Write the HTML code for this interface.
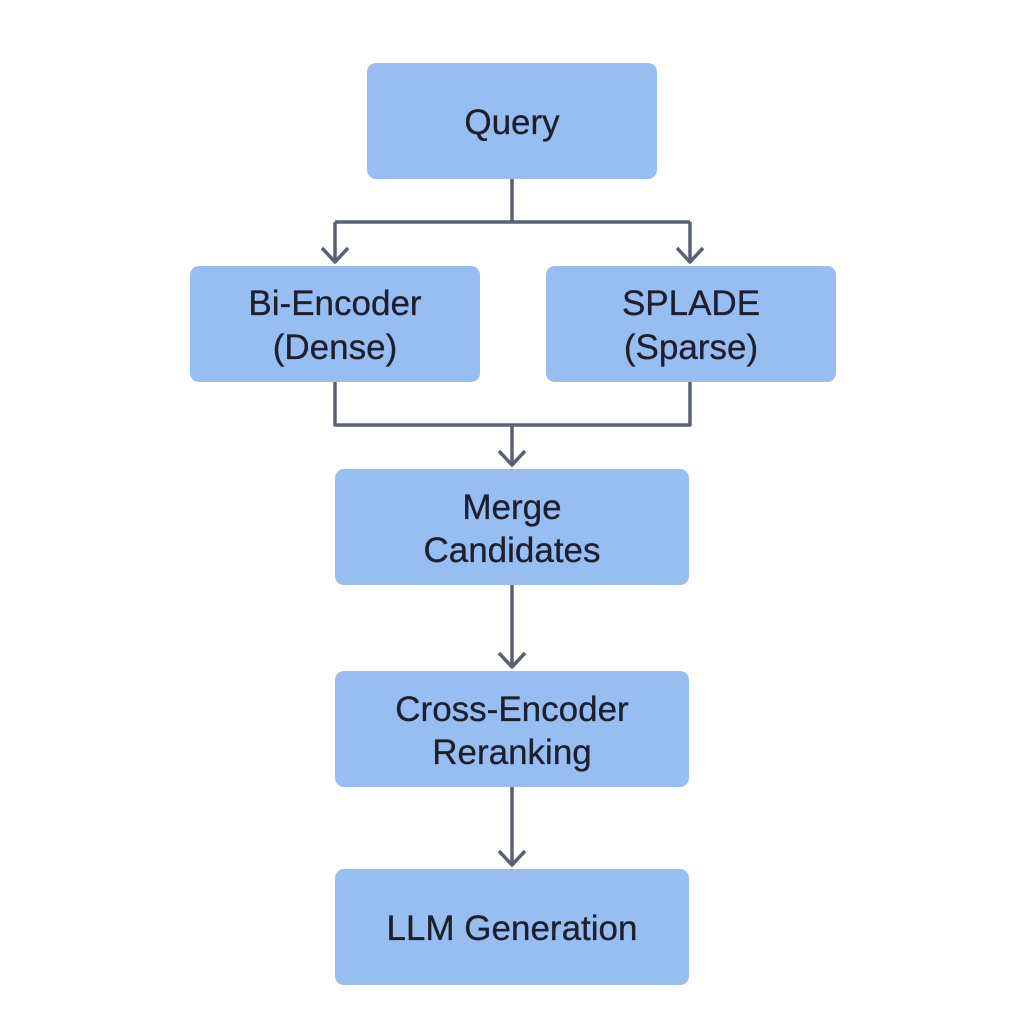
<!DOCTYPE html>
<html><head><style>
body{margin:0;background:#fff;}
svg{display:block}
text{font-family:"Liberation Sans",sans-serif;font-size:35px;fill:#1a2030;text-anchor:middle;stroke:#1a2030;stroke-width:0.3}
</style></head><body>
<svg width="1024" height="1024" viewBox="0 0 1024 1024">
<g fill="#98bdf0">
<rect x="367" y="63" width="290" height="116" rx="9"/>
<rect x="190" y="266" width="290" height="116" rx="9"/>
<rect x="546" y="266" width="290" height="116" rx="9"/>
<rect x="335" y="469" width="354" height="116" rx="9"/>
<rect x="335" y="671" width="354" height="116" rx="9"/>
<rect x="335" y="869" width="354" height="116" rx="9"/>
</g>
<g stroke="#5a6272" stroke-width="3.5" fill="none" stroke-linejoin="round">
<path d="M512 179V222M335 222H690M335 222V262M690 222V262"/>
<path d="M322 248L335 262L348 248M677 248L690 262L703 248"/>
<path d="M335 382V425H690V382M512 425V465"/>
<path d="M499 451L512 465L525 451"/>
<path d="M512 585V667M499 653L512 667L525 653"/>
<path d="M512 787V865M499 851L512 865L525 851"/>
</g>
<text x="512" y="134">Query</text>
<text x="335" y="315">Bi-Encoder</text>
<text x="335" y="359">(Dense)</text>
<text x="691" y="315">SPLADE</text>
<text x="691" y="359">(Sparse)</text>
<text x="512" y="519">Merge</text>
<text x="512" y="562">Candidates</text>
<text x="512" y="721">Cross-Encoder</text>
<text x="512" y="764">Reranking</text>
<text x="512" y="940">LLM Generation</text>
</svg>
</body></html>
